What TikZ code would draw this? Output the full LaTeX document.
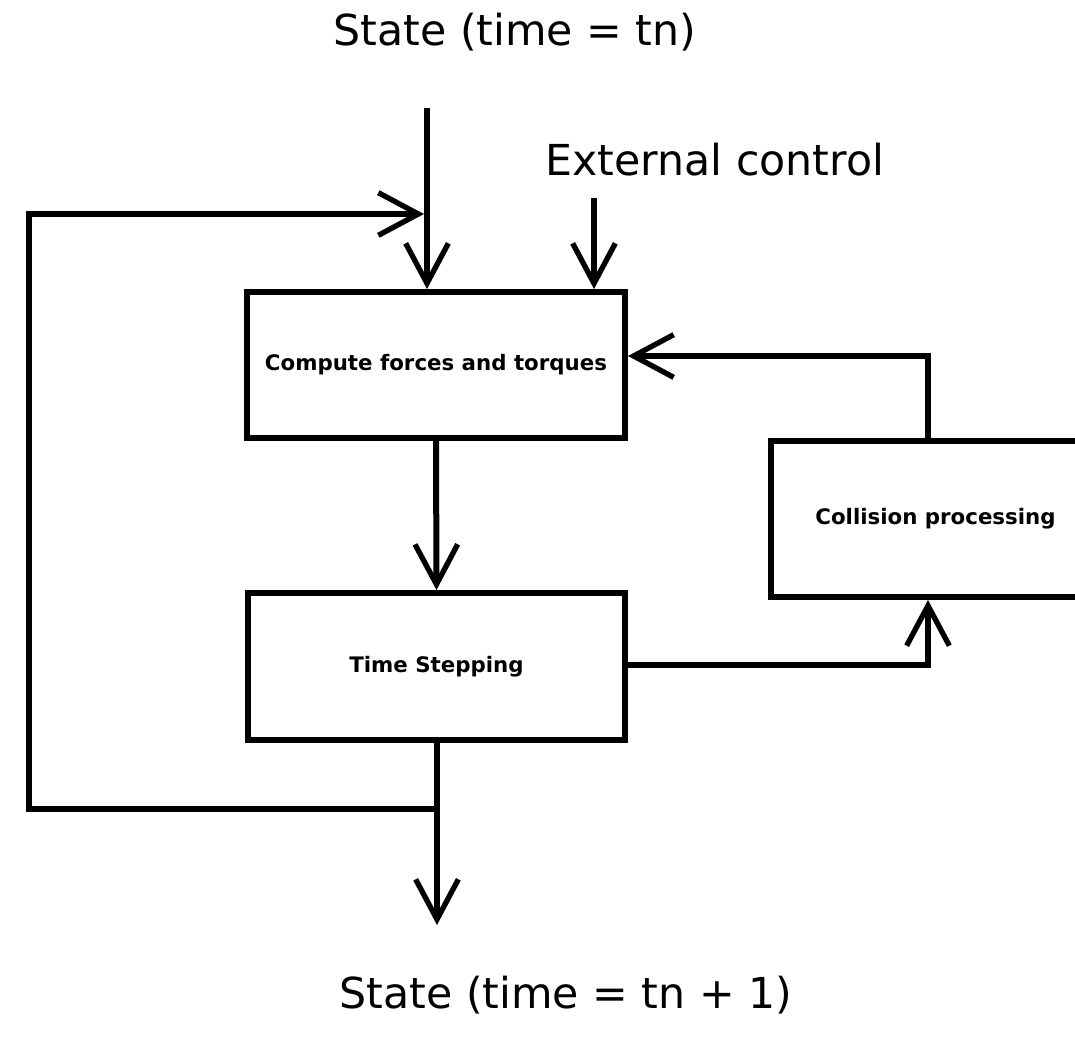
\documentclass[tikz,border=0pt]{standalone}
\usepackage{fontspec}
\setmainfont{DejaVu Sans}
\usetikzlibrary{arrows.meta}
\begin{document}
\begin{tikzpicture}[x=0.75pt,y=-0.75pt,
  box/.style={draw=black,line width=4.5pt,fill=white,inner sep=0pt,
    font=\bfseries\fontsize{16}{19}\selectfont},
  conn/.style={line width=4.5pt,-{Straight Barb[length=30pt,width=32pt,line width=4pt]}},
  lbl/.style={inner sep=0pt,font=\fontsize{32}{38}\selectfont}]
\useasboundingbox (0,0) rectangle (1075,1036);
\fill[white] (0,0) rectangle (1075,1036);
\begin{scope}
\clip (0,0) rectangle (1075,1036);
% labels
\node[lbl] (t0) at (515,32) {State (time = tn)};
\node[lbl] (ext) at (715,160) {External control};
\node[lbl] (t1) at (566,995) {State (time = tn + 1)};
% boxes
\node[box,minimum width=378*0.75pt,minimum height=146*0.75pt] (b1) at (436,365) {Compute forces and torques};
\node[box,minimum width=377*0.75pt,minimum height=147*0.75pt] (b2) at (436.5,666.5) {Time Stepping};
\node[box,minimum width=329*0.75pt,minimum height=156*0.75pt] (b3) at (935.5,519) {Collision processing};
% helper coordinates
\coordinate (s0) at (427,108);
\coordinate (e0) at (594,198);
\coordinate (k1) at (928,356);
\coordinate (k2) at (928,665);
\coordinate (j) at (437,809);
\coordinate (l1) at (29,809);
\coordinate (l2) at (29,214);
\coordinate (m) at (424,214);
\coordinate (o1) at (437,925);
% connectors
\draw[conn] (s0) -- (b1.north -| s0);
\draw[conn] (e0) -- (b1.north -| e0);
\draw[conn] (b1.south) -- (b2.north);
\draw[conn] (b3.north -| k1) -- (k1) -- (b1.east |- k1);
\draw[conn] (b2.east |- k2) -- (k2) -- (b3.south -| k2);
\draw[conn] (b2.south -| o1) -- (o1);
\draw[conn] (j) -- (l1) -- (l2) -- (m);
\end{scope}
\end{tikzpicture}
\end{document}
